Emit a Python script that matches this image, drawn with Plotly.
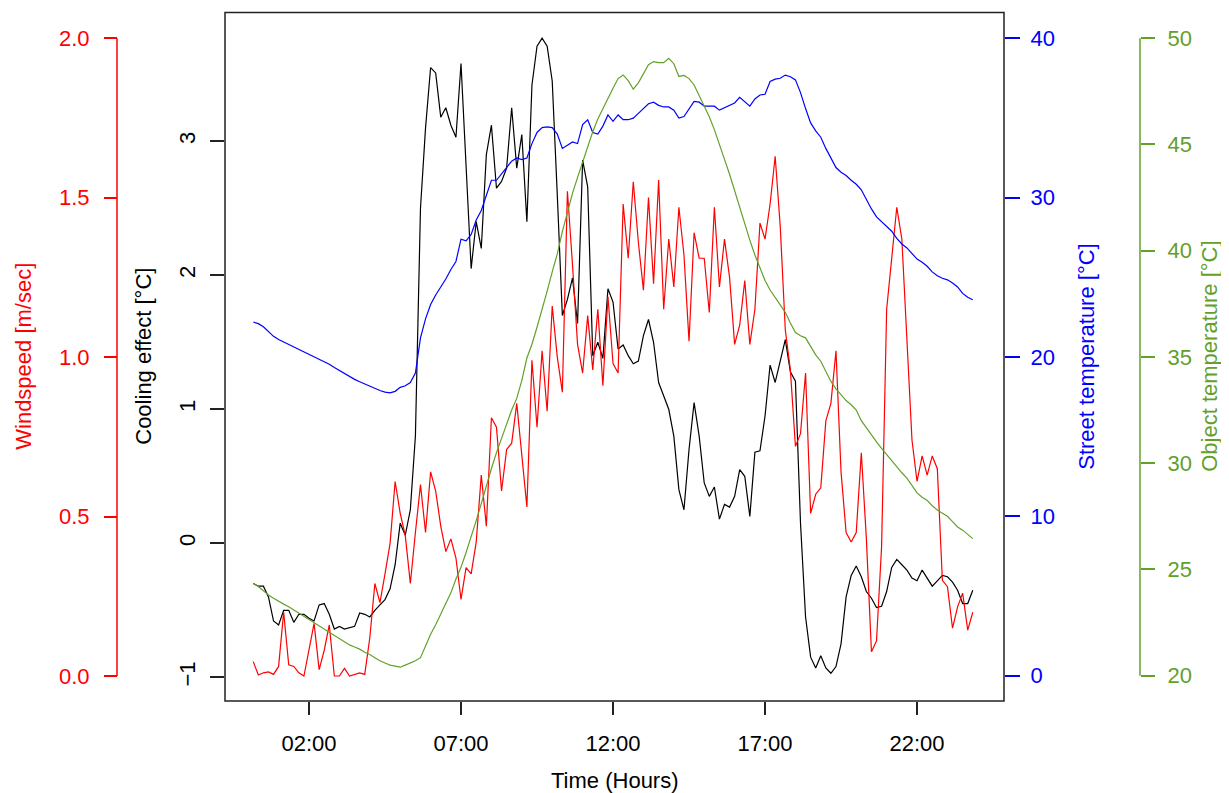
import plotly.graph_objects as go

# ---- data (10-minute samples, 00:10 .. 23:50) ----
hours = [(10 + 10 * i) / 60 for i in range(143)]

cooling = [-0.30, -0.32, -0.32, -0.40, -0.58, -0.61, -0.50, -0.50, -0.59, -0.53,
           -0.53, -0.56, -0.58, -0.46, -0.45, -0.53, -0.64, -0.62, -0.64, -0.63,
           -0.62, -0.52, -0.53, -0.55, -0.50, -0.46, -0.42, -0.34, -0.16, 0.15,
           0.06, 0.25, 0.80, 2.50, 3.10, 3.55, 3.51, 3.18, 3.25, 3.12,
           3.03, 3.58, 2.80, 2.05, 2.40, 2.20, 2.90, 3.12, 2.65, 2.70,
           2.80, 3.25, 2.80, 3.05, 2.40, 3.42, 3.71, 3.77, 3.71, 3.45,
           2.60, 1.70, 1.82, 1.98, 1.64, 2.86, 2.66, 1.40, 1.50, 1.38,
           1.90, 1.80, 1.45, 1.48, 1.40, 1.34, 1.36, 1.55, 1.67, 1.50,
           1.20, 1.10, 1.00, 0.80, 0.40, 0.25, 0.70, 1.05, 0.80, 0.45,
           0.35, 0.42, 0.18, 0.29, 0.27, 0.35, 0.55, 0.50, 0.20, 0.68,
           0.69, 0.95, 1.33, 1.20, 1.35, 1.52, 1.28, 1.21, 0.15, -0.55,
           -0.85, -0.93, -0.84, -0.93, -0.97, -0.92, -0.75, -0.40, -0.24, -0.17,
           -0.25, -0.36, -0.41, -0.48, -0.47, -0.36, -0.18, -0.12, -0.16, -0.20,
           -0.26, -0.28, -0.20, -0.26, -0.32, -0.28, -0.24, -0.25, -0.29, -0.35,
           -0.45, -0.45, -0.35]

windspeed = [0.045, 0.003, 0.01, 0.013, 0.005, 0.03, 0.20, 0.035, 0.03, 0.01,
             0.0, 0.08, 0.165, 0.02, 0.08, 0.16, 0.0, 0.0, 0.024, 0.0,
             0.005, 0.01, 0.005, 0.12, 0.29, 0.23, 0.32, 0.416, 0.61, 0.51,
             0.44, 0.29, 0.45, 0.60, 0.45, 0.64, 0.58, 0.47, 0.39, 0.43,
             0.37, 0.24, 0.34, 0.32, 0.42, 0.63, 0.47, 0.81, 0.78, 0.58,
             0.71, 0.73, 0.855, 0.70, 0.53, 0.99, 0.78, 1.02, 0.83, 1.16,
             1.00, 0.89, 1.52, 1.29, 1.04, 0.95, 1.13, 0.96, 1.15, 0.91,
             1.19, 0.98, 0.95, 1.48, 1.31, 1.55, 1.36, 1.21, 1.50, 1.23,
             1.555, 1.15, 1.37, 1.22, 1.47, 1.32, 1.05, 1.39, 1.31, 1.31,
             1.14, 1.47, 1.22, 1.37, 1.25, 1.04, 1.10, 1.24, 1.04, 1.15,
             1.42, 1.37, 1.48, 1.63, 1.41, 1.085, 0.96, 0.72, 0.76, 0.95,
             0.51, 0.57, 0.59, 0.80, 0.855, 1.02, 0.64, 0.45, 0.42, 0.45,
             0.70, 0.43, 0.076, 0.11, 0.405, 1.15, 1.30, 1.47, 1.37, 1.04,
             0.74, 0.61, 0.69, 0.63, 0.69, 0.65, 0.30, 0.28, 0.15, 0.217,
             0.26, 0.144, 0.20]

street_temp = [22.2, 22.1, 21.9, 21.6, 21.3, 21.1, 20.95, 20.8, 20.6, 20.45,
               20.3, 20.15, 20.0, 19.85, 19.7, 19.55, 19.35, 19.15, 18.95, 18.75,
               18.6, 18.45, 18.3, 18.2, 18.05, 17.9, 17.8, 17.75, 17.85, 18.1,
               18.2, 18.4, 19.0, 21.2, 22.4, 23.3, 23.9, 24.4, 24.9, 25.5,
               26.0, 27.4, 27.3, 27.7, 28.6, 29.2, 30.2, 31.1, 31.1, 31.5,
               31.9, 32.3, 32.5, 32.4, 32.5, 33.4, 34.1, 34.4, 34.45, 34.4,
               34.0, 33.1, 33.3, 33.5, 33.4, 34.6, 34.9, 34.1, 34.0, 34.5,
               35.2, 34.8, 35.2, 34.9, 34.9, 35.0, 35.3, 35.6, 35.9, 36.0,
               35.8, 35.7, 35.7, 35.5, 35.0, 35.1, 35.6, 36.05, 36.0, 35.75,
               35.75, 35.75, 35.5, 35.65, 35.8, 35.95, 36.3, 36.0, 35.75, 36.2,
               36.45, 36.5, 37.3, 37.45, 37.5, 37.7, 37.6, 37.4, 36.6, 35.6,
               34.7, 34.2, 33.8, 33.1, 32.5, 31.9, 31.6, 31.4, 31.1, 30.85,
               30.5, 29.85, 29.3, 28.8, 28.5, 28.2, 27.9, 27.45, 27.1, 26.85,
               26.5, 26.15, 25.95, 25.7, 25.35, 25.1, 24.95, 24.85, 24.65, 24.4,
               24.0, 23.75, 23.6]

object_temp = [24.35, 24.2, 24.0, 23.8, 23.65, 23.5, 23.37, 23.25, 23.1, 22.95,
               22.8, 22.65, 22.5, 22.35, 22.2, 22.05, 21.9, 21.75, 21.6, 21.45,
               21.35, 21.25, 21.1, 21.0, 20.85, 20.7, 20.6, 20.5, 20.45, 20.4,
               20.5, 20.6, 20.7, 20.85, 21.4, 21.95, 22.4, 22.9, 23.35, 23.9,
               24.55, 25.1, 25.8, 26.5, 27.3, 28.1, 28.95, 29.75, 30.5, 31.2,
               31.85, 32.5, 33.05, 33.9, 34.95, 35.6, 36.4, 37.2, 38.1, 39.0,
               39.85, 40.9, 41.85, 42.7, 43.45, 44.2, 44.9, 45.6, 46.2, 46.7,
               47.2, 47.65, 48.1, 48.27, 48.0, 47.6, 47.9, 48.35, 48.75, 48.9,
               48.85, 48.85, 49.05, 48.8, 48.2, 48.25, 48.1, 47.8, 47.3, 46.85,
               46.3, 45.7, 45.05, 44.3, 43.6, 42.8, 42.0, 41.25, 40.5, 39.8,
               39.15, 38.6, 38.15, 37.8, 37.45, 37.1, 36.6, 36.15, 36.0, 35.9,
               35.5, 35.1, 34.8, 34.3, 33.85, 33.5, 33.2, 32.95, 32.75, 32.5,
               32.0, 31.65, 31.3, 31.0, 30.7, 30.4, 30.1, 29.85, 29.55, 29.3,
               28.95, 28.6, 28.4, 28.25, 28.0, 27.8, 27.65, 27.5, 27.25, 27.0,
               26.85, 26.65, 26.45]

x_tick_vals = [2, 7, 12, 17, 22]
x_tick_text = ["02:00", "07:00", "12:00", "17:00", "22:00"]
cool_ticks = [-1, 0, 1, 2, 3]
wind_ticks = [0.0, 0.5, 1.0, 1.5, 2.0]
wind_tick_text = ["0.0", "0.5", "1.0", "1.5", "2.0"]
street_ticks = [0, 10, 20, 30, 40]
object_ticks = [20, 25, 30, 35, 40, 45, 50]

# ---- styling ----
OFF = 8                      # page body margin
W, H = 1229 - OFF, 793 - OFF
FONT = "Liberation Sans, Arial, sans-serif"
FS = 22
RED, BLUE, GREEN, BLACK = "#FF0000", "#0000FF", "#63A02A", "#000000"


def px(xp):
    return (xp - OFF) / W


def py(yp):
    return (H - (yp - OFF)) / H


box_l, box_r, box_t, box_b = 225, 1004, 12.5, 701
dx0, dx1 = px(box_l), px(box_r)
dy0, dy1 = py(box_b), py(box_t)
wind_axis_x = px(117)
obj_axis_x = px(1140)

fig = go.Figure()
fig.add_trace(go.Scatter(x=hours, y=cooling, mode="lines", yaxis="y",
                         line=dict(color=BLACK, width=1.2), showlegend=False))
fig.add_trace(go.Scatter(x=hours, y=windspeed, mode="lines", yaxis="y2",
                         line=dict(color=RED, width=1.2), showlegend=False))
fig.add_trace(go.Scatter(x=hours, y=street_temp, mode="lines", yaxis="y3",
                         line=dict(color=BLUE, width=1.2), showlegend=False))
fig.add_trace(go.Scatter(x=hours, y=object_temp, mode="lines", yaxis="y4",
                         line=dict(color=GREEN, width=1.2), showlegend=False))

common = dict(showgrid=False, zeroline=False, automargin=False, ticks="outside",
              showline=False)

fig.update_layout(
    width=W, height=H, autosize=False,
    margin=dict(l=0, r=0, t=0, b=0),
    paper_bgcolor="white", plot_bgcolor="white",
    font=dict(family=FONT, size=FS, color=BLACK),
    xaxis=dict(domain=[dx0, dx1], range=[-0.763, 24.86], tickvals=x_tick_vals,
               ticktext=x_tick_text, ticklen=13, tickwidth=1.5, tickcolor="#222",
               tickfont=dict(size=FS, color=BLACK), ticklabelstandoff=10, **common),
    yaxis=dict(domain=[dy0, dy1], range=[-1.177, 3.961], tickvals=cool_ticks,
               anchor="x", side="left", tickangle=-90, ticklen=14, tickwidth=1.5,
               tickcolor="#222", tickfont=dict(size=FS, color=BLACK),
               ticklabelstandoff=6, **common),
    yaxis2=dict(domain=[dy0, dy1], range=[-0.0784, 2.0806], tickvals=wind_ticks,
                ticktext=wind_tick_text, overlaying="y", anchor="free",
                position=wind_axis_x, side="left", ticklen=13, tickwidth=1.5,
                tickcolor=RED, tickfont=dict(size=FS, color=RED),
                ticklabelstandoff=10, **common),
    yaxis3=dict(domain=[dy0, dy1], range=[-1.588, 41.63], tickvals=street_ticks,
                overlaying="y", anchor="x", side="right", ticklen=15, tickwidth=1.5,
                tickcolor=BLUE, tickfont=dict(size=FS, color=BLUE),
                ticklabelstandoff=6, **common),
    yaxis4=dict(domain=[dy0, dy1], range=[18.81, 51.21], tickvals=object_ticks,
                overlaying="y", anchor="free", position=obj_axis_x, side="right",
                ticklen=14, tickwidth=1.5, tickcolor=GREEN,
                tickfont=dict(size=FS, color=GREEN), ticklabelstandoff=8, **common),
)

# plot frame and axis lines
fig.add_shape(type="rect", xref="paper", yref="paper", x0=dx0, x1=dx1, y0=dy0, y1=dy1,
              line=dict(color="#222", width=1.5), layer="above")
fig.add_shape(type="line", xref="paper", yref="y2", x0=wind_axis_x, x1=wind_axis_x,
              y0=wind_ticks[0], y1=wind_ticks[-1], line=dict(color=RED, width=1.5))
fig.add_shape(type="line", xref="paper", yref="y4", x0=obj_axis_x, x1=obj_axis_x,
              y0=object_ticks[0], y1=object_ticks[-1], line=dict(color=GREEN, width=1.5))

ymid = py((box_t + box_b) / 2)
titles = [("Windspeed [m/sec]", 24, RED), ("Cooling effect [°C]", 144, BLACK),
          ("Street temperature [°C]", 1087, BLUE), ("Object temperature [°C]", 1210, GREEN)]
for text, xp, col in titles:
    fig.add_annotation(text=text, x=px(xp), y=ymid, xref="paper", yref="paper",
                       textangle=-90, showarrow=False, xanchor="center", yanchor="middle",
                       font=dict(size=FS, color=col, family=FONT))
fig.add_annotation(text="Time (Hours)", x=px((box_l + box_r) / 2), y=py(780),
                   xref="paper", yref="paper", showarrow=False, xanchor="center",
                   yanchor="middle", font=dict(size=FS, color=BLACK, family=FONT))

fig.write_html("out.html")
